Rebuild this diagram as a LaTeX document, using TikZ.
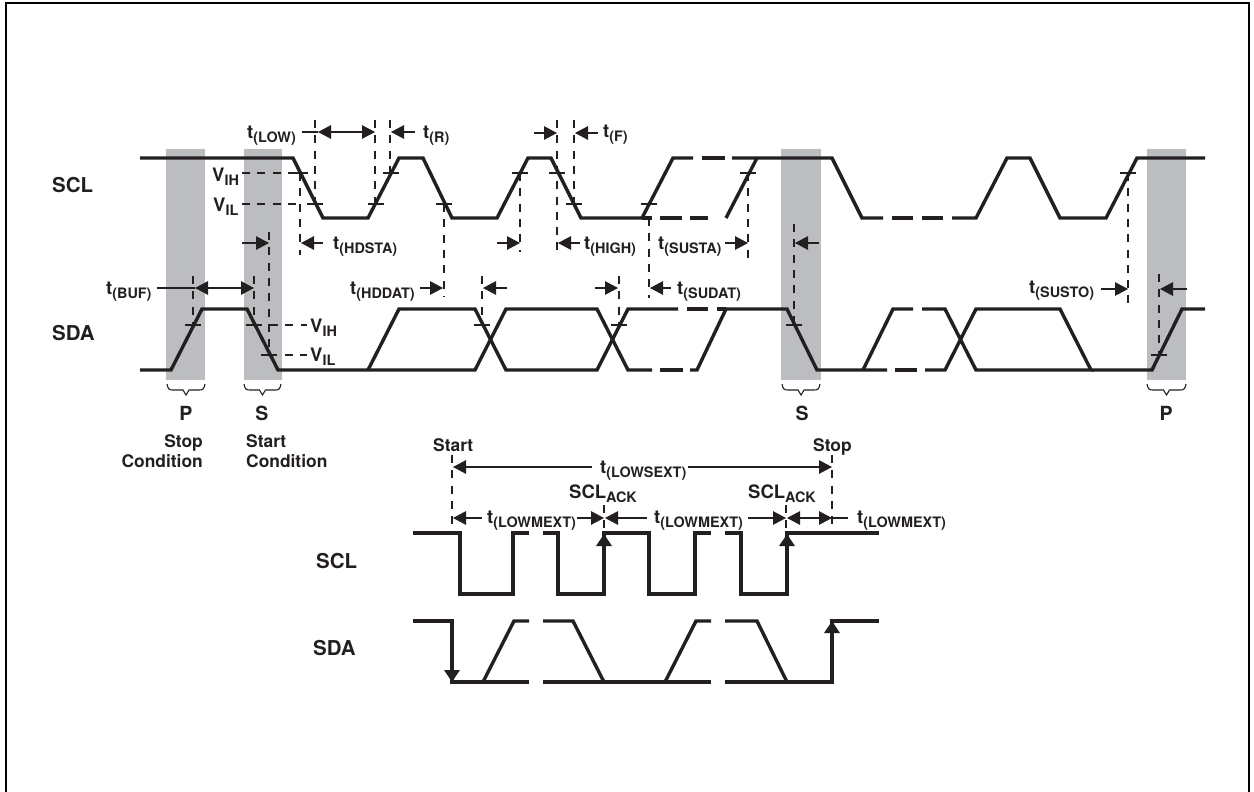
\documentclass[tikz,border=0pt]{standalone}
\usepackage{fontspec}
\setmainfont{TeX Gyre Heros}
\usetikzlibrary{arrows.meta}
\definecolor{band}{RGB}{187,189,192}
\definecolor{ink}{RGB}{35,31,32}
\tikzset{
  sig/.style={draw=ink,line width=3.4pt,line join=miter,line cap=butt},
  dsh/.style={draw=ink,line width=2.5pt,dash pattern=on 8pt off 7.3pt},
  tk/.style={draw=ink,line width=1.6pt},
  shaft/.style={draw=ink,line width=1.2pt},
  arr/.style={shaft,-{Triangle[length=13pt,width=13.5pt]}},
  arr2/.style={shaft,{Triangle[length=13pt,width=13.5pt]}-{Triangle[length=13pt,width=13.5pt]}},
  upa/.style={draw=ink,line width=3.4pt,-{Triangle[length=12pt,width=15pt]}},
  brc/.style={draw=ink,line width=1.1pt},
  lbl/.style={anchor=base west,inner sep=0pt,text=ink,font=\fontsize{18.5}{20}\selectfont\bfseries},
  big/.style={anchor=base west,inner sep=0pt,text=ink,font=\fontsize{20.5}{21}\selectfont\bfseries},
  clb/.style={anchor=base,inner sep=0pt,text=ink,font=\fontsize{19.5}{20}\selectfont\bfseries},
  small/.style={anchor=base west,inner sep=0pt,text=ink,font=\fontsize{17.4}{18}\selectfont\bfseries}
}
\newcommand{\sbs}[2]{#1\raisebox{-4.5pt}{\fontsize{14.4}{14}\selectfont #2}}
\begin{document}
\begin{tikzpicture}[x=1pt,y=-1pt]
\useasboundingbox (0,0) rectangle (1254,792);
\fill[white] (0,0) rectangle (1254,792);
\draw[black,line width=2pt] (6,800)--(6,3)--(1249,3)--(1249,800);
% grey bands
\foreach \a/\b in {166/205,244/282,781/821,1147/1186}
  \fill[band] (\a,149) rectangle (\b,380);
% dashed verticals
\foreach \x/\a/\b in {315/120/204,375/120/204,390/120/173,300/173/255,269/232/355,193/276/325,254/276/325,
  444/204/297,482/276/325,557/120/252,574/120/204,520/173/252,649/218/298,748/173/259,794/224/325,
  619/276/325,1128/173/308,1159/274/355,452/455/533,832/455/533,604/505/533,786/505/533}
  \draw[dsh] (\x,\a)--(\x,\b);
\draw[dsh] (242,173)--(300,173);
\draw[dsh] (242,204)--(300,204);
\draw[dsh] (270,325)--(307,325);
\draw[dsh] (285,355)--(307,355);
% ticks
\foreach \x/\y in {300/173,315/204,376/204,391/173,444/204,520/173,557/173,574/204,649/204,748/173,1128/173,
  193/325,254/325,269/355,482/325,619/325,794/325,1159/355}
  \draw[tk] (\x-8,\y)--(\x+8,\y);
% upper SCL
\draw[sig] (140,158)--(293,158)--(323,218)--(368,218)--(399,158)--(423,158)--(452,218)--(497,218)--(528,158)--(551,158)--(581,218)--(642,218)--(673,158)--(693,158);
\draw[sig] (702,158)--(725,158);
\draw[sig] (732,158)--(757,158)--(832,158)--(862,218)--(883,218);
\draw[sig] (642,218)--(652,218);
\draw[sig] (660,218)--(682,218);
\draw[sig] (690,218)--(708,218);
\draw[sig] (726,218)--(757,158);
\draw[sig] (892,218)--(913,218);
\draw[sig] (922,218)--(943,218);
\draw[sig] (952,218)--(976,218)--(1007,158)--(1030,158)--(1060,218)--(1106,218)--(1137,158)--(1205,158);
% upper SDA
\draw[sig] (140,370)--(171,370)--(202,309)--(247,309)--(278,370)--(475,370)--(506,309)--(597,309)--(628,370)--(652,370);
\draw[sig] (368,370)--(399,309)--(475,309)--(506,370)--(597,370)--(628,309)--(678,309);
\draw[sig] (660,370)--(683,370);
\draw[sig] (690,370)--(697,370)--(726,309)--(787,309)--(817,370)--(887,370);
\draw[sig] (687,309)--(708,309);
\draw[sig] (717,309)--(726,309);
\draw[sig] (863,370)--(893,309)--(913,309);
\draw[sig] (895,370)--(917,370);
\draw[sig] (922,309)--(945,309)--(976,370)--(1091,370)--(1060,309)--(976,309)--(945,370)--(925,370);
\draw[sig] (1091,370)--(1152,370)--(1182,309)--(1205,309);
% lower SCL
\draw[sig] (413,533)--(460,533)--(460,594)--(513,594)--(513,533)--(529,533);
\draw[sig] (543,533)--(558,533)--(558,594)--(604,594)--(604,533)--(649,533)--(649,594)--(695,594)--(695,533)--(711,533);
\draw[sig] (725,533)--(741,533)--(741,594)--(787,594)--(787,533)--(879,533);
% lower SDA
\draw[sig] (413,621)--(452,621)--(452,682)--(529,682);
\draw[sig] (483,682)--(514,621)--(529,621);
\draw[sig] (543,621)--(573,621)--(604,682);
\draw[sig] (543,682)--(711,682);
\draw[sig] (665,682)--(696,621)--(711,621);
\draw[sig] (725,621)--(757,621)--(787,682);
\draw[sig] (725,682)--(832,682)--(832,621)--(879,621);
% heavy arrow heads on the lower signals
\foreach \x/\a/\b in {604/560/534,787/560/534,832/640/621,452/660/682}
  \draw[upa] (\x,\a)--(\x,\b);
% annotation arrows
\draw[shaft] (302,132)--(318,132);
\draw[arr2] (318,132)--(375,132);
\draw[arr] (415,132)--(391,132);
\draw[arr] (534,133)--(557,133);
\draw[arr] (598,133)--(575,133);
\draw[arr] (242,243)--(269,243);
\draw[arr] (323,243)--(301,243);
\draw[arr] (497,243)--(520,243);
\draw[arr] (580,243)--(558,243);
\draw[arr] (725,243)--(748,243);
\draw[arr] (819,243)--(795,243);
\draw[shaft] (157,288)--(195,288);
\draw[arr2] (195,288)--(254,288);
\draw[arr] (420,288)--(443,288);
\draw[arr] (507,288)--(483,288);
\draw[arr] (595,288)--(618,288);
\draw[arr] (671,288)--(650,288);
\draw[arr] (1101,289)--(1128,289);
\draw[arr] (1187,289)--(1160,289);
\draw[arr] (592,467)--(453,467);
\draw[arr] (688,467)--(832,467);
\draw[arr] (482,518)--(453,518);
\draw[arr] (577,518)--(604,518);
\draw[arr] (647,518)--(605,518);
\draw[arr] (748,518)--(786,518);
\draw[arr2] (787,518)--(832,518);
\draw[shaft] (832,518)--(848,518);
% braces
\foreach \a/\b in {167/205,244/281,782/820,1147/1186}
  \draw[brc] (\a,384) .. controls (\a+1,389) and (\a+2,390) .. (\a+6,390)
    -- ({(\a+\b)/2-3},390) -- ({(\a+\b)/2},395) -- ({(\a+\b)/2+3},390)
    -- (\b-6,390) .. controls (\b-2,390) and (\b-1,389) .. (\b,384);
% labels
\node[big] (sclA) at (52,192) {SCL};
\node[big] (sdaA) at (52,340) {SDA};
\node[big] (sclB) at (316,568) {SCL};
\node[big] (sdaB) at (313,655) {SDA};
\node[lbl] (tlow) at (247,138) {\sbs{t}{(LOW)}};
\node[lbl] (tr) at (423,138) {\sbs{t}{(R)}};
\node[lbl] (tf) at (603,137) {\sbs{t}{(F)}};
\node[lbl] (vih) at (212,181) {\sbs{V}{IH}};
\node[lbl] (vil) at (213,211) {\sbs{V}{IL}};
\node[lbl] (thdsta) at (333,249) {\sbs{t}{(HDSTA)}};
\node[lbl] (thigh) at (584,249) {\sbs{t}{(HIGH)}};
\node[lbl] (tsusta) at (658,249) {\sbs{t}{(SUSTA)}};
\node[lbl] (tbuf) at (106,294) {\sbs{t}{(BUF)}};
\node[lbl] (thddat) at (350,294) {\sbs{t}{(HDDAT)}};
\node[lbl] (tsudat) at (677,294) {\sbs{t}{(SUDAT)}};
\node[lbl] (tsusto) at (1029,293) {\sbs{t}{(SUSTO)}};
\node[lbl] (vih2) at (310,332) {\sbs{V}{IH}};
\node[lbl] (vil2) at (310,361) {\sbs{V}{IL}};
\node[clb] (p1) at (186,420) {P};
\node[clb] (s1) at (262,420) {S};
\node[clb] (s2) at (802,420) {S};
\node[clb] (p2) at (1166,420) {P};
\node[small,anchor=base east] (stop1) at (203,447) {Stop};
\node[small,anchor=base east] (cond1) at (203,467) {Condition};
\node[small] (start1) at (246,447) {Start};
\node[small] (cond2) at (246,467) {Condition};
\node[small] (start2) at (433,451) {Start};
\node[small] (stop2) at (813,451) {Stop};
\node[lbl] (ack1) at (569,498) {\sbs{SCL}{ACK}};
\node[lbl] (ack2) at (748,498) {\sbs{SCL}{ACK}};
\node[lbl] (tlowsext) at (600,473) {\sbs{t}{(LOWSEXT)}};
\node[lbl] (tm1) at (487,523) {\sbs{t}{(LOWMEXT)}};
\node[lbl] (tm2) at (654,523) {\sbs{t}{(LOWMEXT)}};
\node[lbl] (tm3) at (857,523) {\sbs{t}{(LOWMEXT)}};
\end{tikzpicture}
\end{document}
